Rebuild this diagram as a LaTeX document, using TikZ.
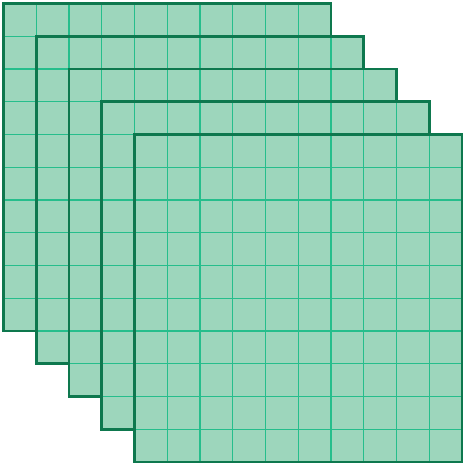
\documentclass[tikz,border=0pt]{standalone}
\definecolor{sheetfill}{RGB}{157,214,188}
\definecolor{sheetgrid}{RGB}{38,190,140}
\definecolor{sheetedge}{RGB}{14,120,78}

\begin{document}
\begin{tikzpicture}[x=1pt, y=-1pt,
  gridline/.style={draw=sheetgrid, line width=1.2pt},
  sheetborder/.style={draw=sheetedge, line width=2.6pt}]
\useasboundingbox (0,0) rectangle (463,468);
% five stacked 10x10 sheets, each shifted by one cell
\foreach \k in {0,...,4}{
  \begin{scope}[shift={(3.5+32.75*\k,3.5+32.75*\k)}]
    \fill[sheetfill] (0,0) rectangle (327.5,327.5);
    \foreach \i in {1,...,9}{
      \draw[gridline] (32.75*\i,0) -- (32.75*\i,327.5);
      \draw[gridline] (0,32.75*\i) -- (327.5,32.75*\i);
    }
    \draw[sheetborder] (0,0) rectangle (327.5,327.5);
  \end{scope}
}
\end{tikzpicture}
\end{document}
